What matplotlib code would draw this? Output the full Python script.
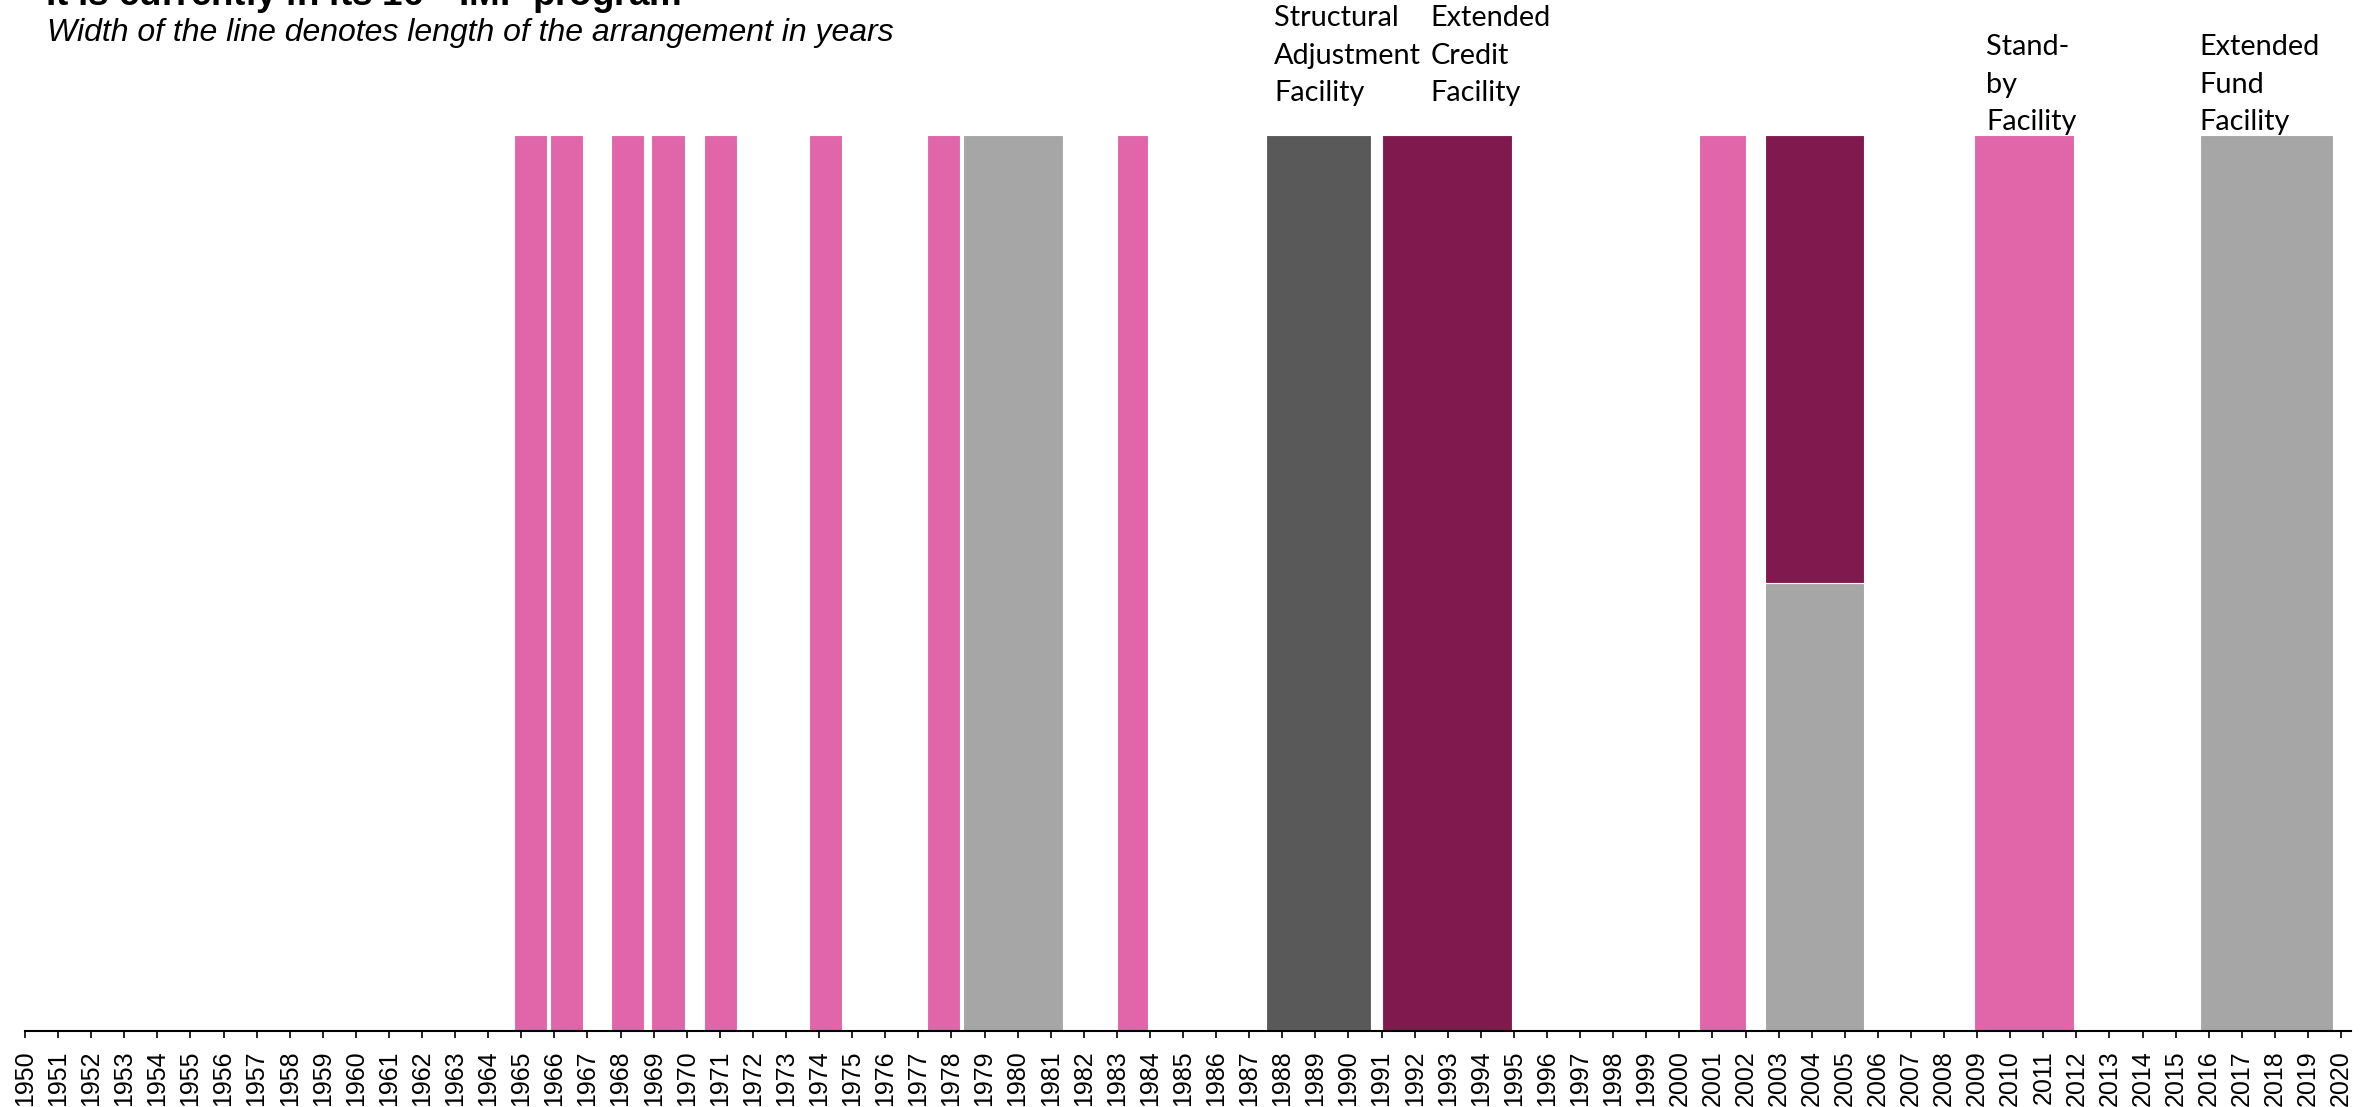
import matplotlib
matplotlib.use("Agg")
import matplotlib.pyplot as plt

plt.rcParams['font.family'] = ['Liberation Sans', 'DejaVu Sans']
plt.rcParams['mathtext.fontset'] = 'custom'
plt.rcParams['mathtext.rm'] = 'Liberation Sans:bold'

# IMF arrangements (start, length in years)
program_start = [1964.78, 1965.86, 1967.70, 1968.93, 1970.52, 1973.70, 1977.26, 1978.35,
                 1983.01, 1987.51, 1991.01, 2000.59, 2002.59, 2002.59, 2008.91, 2015.75]
program_length = [1.00, 1.00, 1.00, 1.01, 1.01, 0.98, 1.00, 3.01,
                  0.93, 3.17, 3.92, 1.42, 3.00, 3.00, 3.01, 4.00]
program_facility = ['SBA', 'SBA', 'SBA', 'SBA', 'SBA', 'SBA', 'SBA', 'EFF',
                    'SBA', 'SAF', 'ECF', 'SBA', 'EFF', 'ECF', 'SBA', 'EFF']
program_share = [1, 1, 1, 1, 1, 1, 1, 1, 1, 1, 1, 1, 0.5, 0.5, 1, 1]

year_ticks = list(range(1950, 2021))

facility_colors = {
    'SBA': '#E065A9',
    'EFF': '#A6A6A6',
    'SAF': '#595959',
    'ECF': '#801A4E',
}

label_texts = ['Structural\nAdjustment\nFacility', 'Extended\nCredit\nFacility',
               'Stand-\nby\nFacility', 'Extended\nFund\nFacility']
label_years = [1987.75, 1992.47, 2009.27, 2015.71]
label_top_px = [5, 5, 34, 34]

fig = plt.figure(figsize=(23.68, 11.07), dpi=100)
ax = fig.add_axes([25 / 2368, 1 - 1031 / 1107, 2326 / 2368, (1031 - 135) / 1107])

# stack bars that share a start year
stacked = {}
for start, length, fac, share in zip(program_start, program_length, program_facility, program_share):
    bottom = stacked.get(start, 0)
    ax.bar(start, share, width=length, bottom=bottom, align='edge',
           color=facility_colors[fac], edgecolor='white', linewidth=0.8)
    stacked[start] = bottom + share

ax.set_xlim(1950, 2020.3)
ax.set_ylim(0, 1)
ax.set_xticks(year_ticks)
ax.set_xticklabels([str(y) for y in year_ticks], rotation=90, fontsize=18)
ax.tick_params(axis='x', direction='out', length=5, width=1.2, pad=9)
ax.set_yticks([])
for side in ['left', 'right', 'top']:
    ax.spines[side].set_visible(False)
ax.spines['bottom'].set_linewidth(1.5)

for txt, yr, top in zip(label_texts, label_years, label_top_px):
    x_fig = fig.transFigure.inverted().transform(ax.transData.transform((yr, 0)))[0]
    fig.text(x_fig, 1 - top / 1107, txt, family=['Lato', 'DejaVu Sans'], fontsize=20.8,
             ha='left', va='top', linespacing=1.55)

fig.text(45 / 2368, 1 - 6 / 1107, r'It is currently in its 16$^{\mathrm{th}}$ IMF program',
         fontsize=26.5, fontweight='bold', ha='left', va='baseline')
fig.text(47 / 2368, 1 - 41 / 1107, 'Width of the line denotes length of the arrangement in years',
         fontsize=23, style='italic', ha='left', va='baseline')

fig.savefig('out.png', dpi=100)
